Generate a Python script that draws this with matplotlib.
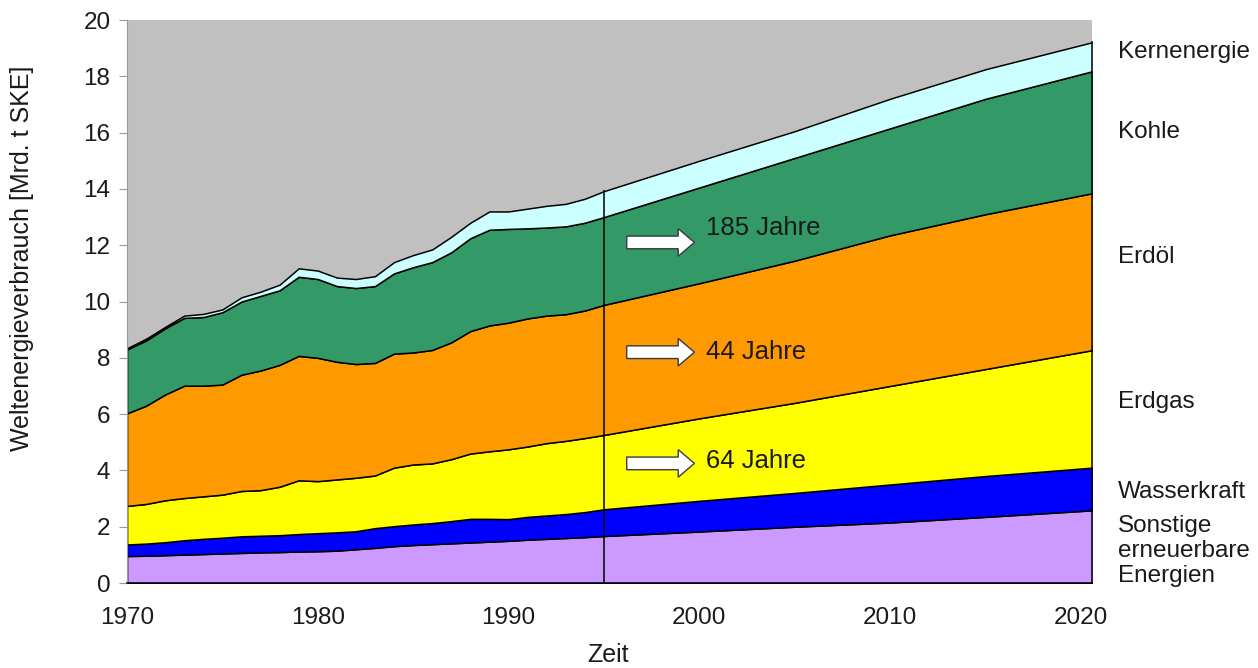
import numpy as np
import matplotlib
matplotlib.use('Agg')
import matplotlib.pyplot as plt
from matplotlib.patches import FancyArrow

plt.rcParams['font.family'] = ['Liberation Sans', 'DejaVu Sans']

# Weltenergieverbrauch nach Energieträgern, Mrd. t SKE (ab 1995 Prognose)
years = [1970, 1971, 1972, 1973, 1974, 1975, 1976, 1977, 1978, 1979,
         1980, 1981, 1982, 1983, 1984, 1985, 1986, 1987, 1988, 1989,
         1990, 1991, 1992, 1993, 1994, 1995, 2000, 2005, 2010, 2015, 2021]

sonstige = [0.96, 0.97, 0.99, 1.01, 1.03, 1.05, 1.07, 1.09, 1.10, 1.12,
            1.13, 1.15, 1.20, 1.25, 1.31, 1.35, 1.38, 1.41, 1.44, 1.47,
            1.50, 1.54, 1.57, 1.60, 1.63, 1.67, 1.83, 2.00, 2.15, 2.35, 2.60]
wasserkraft = [0.41, 0.43, 0.46, 0.51, 0.54, 0.56, 0.59, 0.59, 0.60, 0.62,
               0.64, 0.65, 0.64, 0.70, 0.71, 0.73, 0.75, 0.79, 0.84, 0.81,
               0.77, 0.81, 0.83, 0.85, 0.89, 0.95, 1.09, 1.20, 1.35, 1.45, 1.52]
erdgas = [1.37, 1.41, 1.49, 1.50, 1.51, 1.53, 1.61, 1.62, 1.72, 1.91,
          1.85, 1.88, 1.90, 1.87, 2.08, 2.13, 2.12, 2.20, 2.32, 2.40,
          2.48, 2.50, 2.57, 2.60, 2.63, 2.64, 2.93, 3.20, 3.50, 3.80, 4.20]
erdoel = [3.29, 3.49, 3.76, 3.99, 3.93, 3.91, 4.13, 4.25, 4.33, 4.42,
          4.38, 4.18, 4.04, 4.00, 4.05, 3.98, 4.03, 4.15, 4.35, 4.47,
          4.50, 4.55, 4.53, 4.50, 4.53, 4.62, 4.80, 5.05, 5.35, 5.50, 5.58]
kohle = [2.27, 2.32, 2.35, 2.41, 2.44, 2.57, 2.60, 2.65, 2.65, 2.81,
         2.80, 2.69, 2.70, 2.73, 2.85, 3.03, 3.12, 3.20, 3.30, 3.40,
         3.33, 3.20, 3.13, 3.12, 3.12, 3.12, 3.40, 3.65, 3.80, 4.10, 4.35]
kern = [0.04, 0.06, 0.05, 0.08, 0.11, 0.10, 0.15, 0.15, 0.20, 0.30,
        0.30, 0.30, 0.32, 0.35, 0.40, 0.43, 0.45, 0.55, 0.55, 0.65,
        0.62, 0.70, 0.77, 0.80, 0.85, 0.92, 0.95, 0.95, 1.05, 1.05, 1.03]

labels = ['Sonstige\nerneuerbare\nEnergien', 'Wasserkraft', 'Erdgas',
          'Erdöl', 'Kohle', 'Kernenergie']
colors = ['#CC99FF', '#0000FF', '#FFFF00', '#FF9900', '#339966', '#CCFFFF']
label_y = [1.14, 3.23, 6.43, 11.58, 16.02, 18.86]

# Reichweiten der Reserven (Kohle, Erdöl, Erdgas)
reach_text = ['185 Jahre', '44 Jahre', '64 Jahre']
reach_y = [12.1, 8.2, 4.25]
reach_text_y = [12.6, 8.2, 4.33]

prognose_start = 1995
x_end = 2020.6

fig = plt.figure(figsize=(12.58, 6.68), dpi=100)
ax = fig.add_axes([0.101, 0.1272, 0.7671, 0.8428])
ax.set_facecolor('#C0C0C0')

layers = [sonstige, wasserkraft, erdgas, erdoel, kohle, kern]
ax.stackplot(years, *layers, colors=colors, edgecolor='black', linewidth=1.1)

total = np.sum(np.array(layers), axis=0)
ax.vlines(prognose_start, 0, np.interp(prognose_start, years, total) + 0.05,
          color='black', linewidth=1.1)

# Pfeile mit Reichweiten
for txt, ya, yt in zip(reach_text, reach_y, reach_text_y):
    ax.add_patch(FancyArrow(1996.2, ya, 3.55, 0, width=0.45, head_width=0.98,
                            head_length=0.85, length_includes_head=True,
                            facecolor='white', edgecolor='#3a3a3a', linewidth=1))
    ax.text(2000.35, yt, txt, fontsize=18.5, color='#1a1a1a',
            ha='left', va='center')

# Beschriftung der Energieträger rechts
for lab, ly in zip(labels, label_y):
    ax.text(1.027, ly, lab, transform=ax.get_yaxis_transform(),
            fontsize=17.5, color='#1a1a1a', ha='left', va='center',
            linespacing=1.2, clip_on=False)

ax.set_xlim(1970, x_end)
ax.set_ylim(0, 20)
ax.set_xticks(range(1970, 2021, 10))
ax.set_yticks(range(0, 21, 2))
ax.tick_params(axis='x', length=0, pad=17, labelsize=17.5, labelcolor='#1a1a1a')
ax.tick_params(axis='y', length=6, width=0.8, color='#999999', pad=6,
               labelsize=17.5, labelcolor='#1a1a1a')

for side in ['top']:
    ax.spines[side].set_visible(False)
ax.spines['left'].set_color('#999999')
ax.spines['left'].set_linewidth(0.8)
ax.spines['bottom'].set_color('black')
ax.spines['bottom'].set_linewidth(1.1)
ax.spines['right'].set_color('black')
ax.spines['right'].set_linewidth(1.1)
ax.spines['right'].set_bounds(0, np.interp(x_end, years, total))

fig.text(0.0175, 0.614, 'Weltenergieverbrauch [Mrd. t SKE]', rotation=90,
         fontsize=18, color='#1a1a1a', ha='center', va='center')
fig.text(0.483, 0.02, 'Zeit', fontsize=18, color='#1a1a1a',
         ha='center', va='center')

fig.savefig('out.png', dpi=100)
